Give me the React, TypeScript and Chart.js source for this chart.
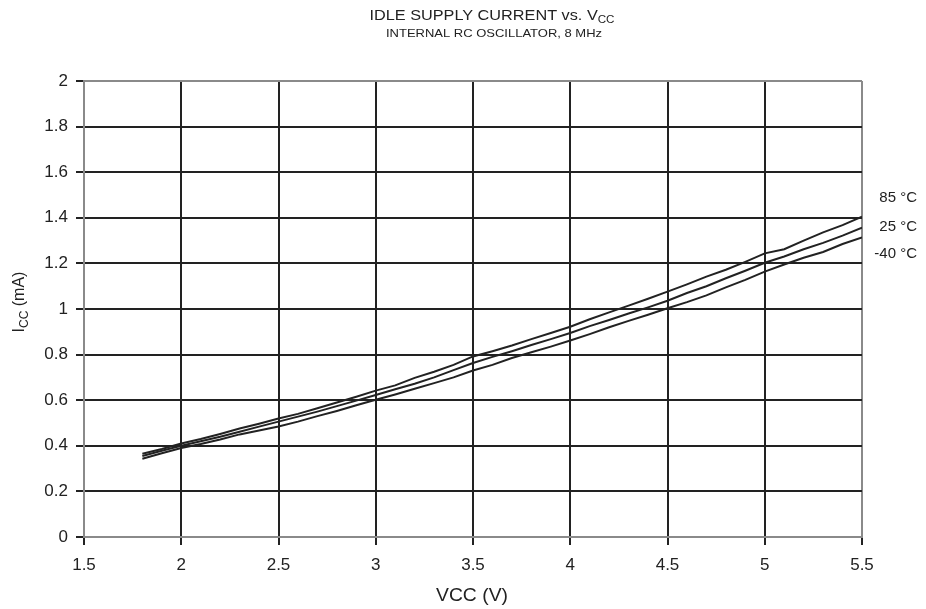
import React, { useEffect, useRef } from "react";
import { Chart, registerables } from "chart.js";

Chart.register(...registerables);

const voltages = [1.8, 1.9, 2.0, 2.1, 2.2, 2.3, 2.4, 2.5, 2.6, 2.7, 2.8, 2.9, 3.0, 3.1, 3.2, 3.3, 3.4, 3.5, 3.6, 3.7, 3.8, 3.9, 4.0, 4.1, 4.2, 4.3, 4.4, 4.5, 4.6, 4.7, 4.8, 4.9, 5.0, 5.1, 5.2, 5.3, 5.4, 5.5];

const i85 = [0.365, 0.386, 0.41, 0.43, 0.452, 0.476, 0.497, 0.52, 0.54, 0.565, 0.59, 0.615, 0.642, 0.665, 0.698, 0.725, 0.755, 0.792, 0.815, 0.84, 0.868, 0.895, 0.922, 0.955, 0.985, 1.015, 1.045, 1.076, 1.108, 1.142, 1.172, 1.207, 1.244, 1.262, 1.3, 1.336, 1.368, 1.405];
const i25 = [0.355, 0.378, 0.4, 0.42, 0.44, 0.462, 0.484, 0.506, 0.528, 0.55, 0.574, 0.598, 0.623, 0.648, 0.672, 0.7, 0.732, 0.763, 0.79, 0.815, 0.842, 0.868, 0.895, 0.925, 0.952, 0.98, 1.007, 1.036, 1.07, 1.1, 1.135, 1.168, 1.203, 1.23, 1.262, 1.29, 1.322, 1.357];
const iM40 = [0.343, 0.367, 0.39, 0.408, 0.428, 0.45, 0.467, 0.485, 0.506, 0.53, 0.553, 0.578, 0.602, 0.625, 0.65, 0.675, 0.7, 0.73, 0.755, 0.785, 0.81, 0.835, 0.862, 0.89, 0.92, 0.948, 0.975, 1.003, 1.03, 1.06, 1.095, 1.128, 1.164, 1.195, 1.225, 1.25, 1.285, 1.314];

const seriesLabels = ["85 °C", "25 °C", "-40 °C"];
const xTicks = [1.5, 2, 2.5, 3, 3.5, 4, 4.5, 5, 5.5];
const yTicks = [0, 0.2, 0.4, 0.6, 0.8, 1, 1.2, 1.4, 1.6, 1.8, 2];

const FONT = "'Liberation Sans', Arial, Helvetica, sans-serif";
const DARK = "#222222";
const BORDER = "#8a8a8a";

function drawSub(ctx: CanvasRenderingContext2D, parts: [string, boolean][], x: number, y: number, size: number, subSize: number, targetWidth?: number) {
  let total = 0;
  for (const [t, sub] of parts) {
    ctx.font = `${sub ? subSize : size}px ${FONT}`;
    total += ctx.measureText(t).width;
  }
  const sx = targetWidth ? targetWidth / total : 1;
  ctx.save();
  ctx.translate(x, y);
  ctx.scale(sx, 1);
  let cx = -total / 2;
  ctx.textAlign = "left";
  ctx.textBaseline = "alphabetic";
  for (const [t, sub] of parts) {
    ctx.font = `${sub ? subSize : size}px ${FONT}`;
    ctx.fillText(t, cx, sub ? size * 0.22 : 0);
    cx += ctx.measureText(t).width;
  }
  ctx.restore();
}

const textPlugin = {
  id: "textPlugin",
  afterDraw(chart: any) {
    const ctx = chart.ctx as CanvasRenderingContext2D;
    ctx.save();
    ctx.fillStyle = DARK;
    drawSub(ctx, [["IDLE SUPPLY CURRENT vs. V", false], ["CC", true]], 492, 20, 14, 10, 245);
    drawSub(ctx, [["INTERNAL RC OSCILLATOR, 8 MHz", false]], 494, 37, 11, 8, 216);
    drawSub(ctx, [["VCC (V)", false]], 472, 601, 18, 13, 72);
    ctx.save();
    ctx.translate(24, 302);
    ctx.rotate(-Math.PI / 2);
    drawSub(ctx, [["I", false], ["CC", true], [" (mA)", false]], 0, 0, 16, 12);
    ctx.restore();
    ctx.font = `15px ${FONT}`;
    ctx.textAlign = "right";
    ctx.textBaseline = "middle";
    const ys = [198, 227, 254];
    seriesLabels.forEach((l, i) => ctx.fillText(l, 917, ys[i]));
    ctx.restore();
  },
};

export default function App() {
  const ref = useRef<HTMLCanvasElement | null>(null);
  useEffect(() => {
    document.body.style.margin = "0";
    const mk = (data: number[], label: string) => ({
      label,
      data: voltages.map((v, i) => ({ x: v, y: data[i] })),
      borderColor: DARK,
      borderWidth: 2,
      pointRadius: 0,
      tension: 0,
      fill: false,
    });
    const chart = new Chart(ref.current as HTMLCanvasElement, {
      type: "line",
      data: { datasets: [mk(i85, seriesLabels[0]), mk(i25, seriesLabels[1]), mk(iM40, seriesLabels[2])] },
      plugins: [textPlugin],
      options: {
        animation: false,
        responsive: false,
        maintainAspectRatio: false,
        layout: { padding: { top: 81, right: 64, left: 0, bottom: 0 } },
        plugins: { legend: { display: false }, tooltip: { enabled: false }, title: { display: false } },
        scales: {
          x: {
            type: "linear",
            min: 1.5,
            max: 5.5,
            afterBuildTicks: (s: any) => { s.ticks = xTicks.map((v) => ({ value: v })); },
            afterFit: (s: any) => { s.height = 72; },
            ticks: {
              color: DARK,
              font: { family: FONT, size: 17 },
              padding: 10,
              maxRotation: 0,
              callback: (v: any) => String(v),
            },
            grid: {
              color: (c: any) => (c.tick && (c.tick.value === 1.5 || c.tick.value === 5.5) ? BORDER : DARK),
              lineWidth: 2,
              tickLength: 8,
              tickColor: DARK,
              drawTicks: true,
            },
            border: { display: true, color: BORDER, width: 2 },
          },
          y: {
            type: "linear",
            min: 0,
            max: 2,
            afterBuildTicks: (s: any) => { s.ticks = yTicks.map((v) => ({ value: v })); },
            afterFit: (s: any) => { s.width = 84; },
            ticks: {
              color: DARK,
              font: { family: FONT, size: 17 },
              padding: 8,
              callback: (v: any) => String(v),
            },
            grid: {
              color: (c: any) => (c.tick && (c.tick.value === 0 || c.tick.value === 2) ? BORDER : DARK),
              lineWidth: 2,
              tickLength: 8,
              tickColor: DARK,
            },
            border: { display: true, color: BORDER, width: 2 },
          },
        },
      } as any,
    });
    return () => chart.destroy();
  }, []);
  return (
    <div style={{ position: "absolute", left: 0, top: 0, width: 926, height: 609, background: "#fff" }}>
      <canvas ref={ref} width={926} height={609} style={{ width: 926, height: 609 }} />
    </div>
  );
}
